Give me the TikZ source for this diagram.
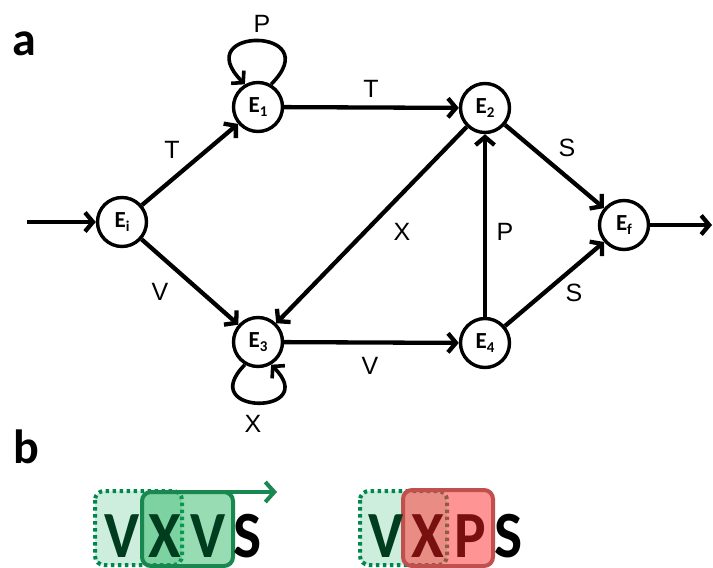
\documentclass[tikz,border=0pt]{standalone}
\usepackage{fontspec}
\setmainfont{Carlito}
\newfontfamily\labfont{Liberation Sans}
\usetikzlibrary{arrows.meta}
\definecolor{lgreen}{RGB}{205,238,220}
\definecolor{dotgreen}{RGB}{0,135,80}
\definecolor{solidgreen}{RGB}{21,175,85}
\definecolor{bordergreen}{RGB}{25,135,80}
\definecolor{lettergreen}{RGB}{0,60,30}
\definecolor{redfill}{RGB}{255,60,60}
\definecolor{redborder}{RGB}{192,80,77}
\definecolor{letterred}{RGB}{120,16,16}
\newcommand\Es[1]{\fontsize{23}{23}\selectfont\bfseries E\raisebox{-4pt}{\fontsize{15}{15}\selectfont #1}}
\newcommand\BL[1]{\scalebox{0.9}[1]{#1}}
\begin{document}
\begin{tikzpicture}[x=1pt,y=-1pt,
  state/.style={circle,draw,line width=3.4pt,minimum size=49pt,inner sep=0pt,fill=white},
  edge/.style={line width=4.3pt,-{Straight Barb[length=8pt,width=19pt]}},
  loopedge/.style={line width=3.6pt,-{Straight Barb[length=8pt,width=18pt]}},
  elab/.style={font=\labfont\fontsize{25}{25}\selectfont,inner sep=0pt},
  panel/.style={font=\bfseries\fontsize{48}{48}\selectfont,inner sep=0pt,anchor=base west},
  bigl/.style={font=\bfseries\fontsize{66}{66}\selectfont,inner sep=0pt,anchor=base},
  dotbox/.style={dotgreen,line width=4pt,dash pattern=on 3.5pt off 3.5pt,rounded corners=9pt},
  gbox/.style={fill=solidgreen,fill opacity=0.44,draw=bordergreen,line width=4pt,rounded corners=9pt},
  rbox/.style={fill=redfill,fill opacity=0.55,draw=redborder,line width=4pt,rounded corners=9pt}]
\useasboundingbox (0,0) rectangle (713,568);

% panel labels
\node[panel] (pa) at (12,55) {a};
\node[panel] (pb) at (13,463) {b};

% states
\node[state] (Ei) at (122,222) {\Es{i}};
\node[state] (E1) at (258,107) {\Es{1}};
\node[state] (E2) at (485,108) {\Es{2}};
\node[state] (Ef) at (624,225) {\Es{f}};
\node[state] (E3) at (258,342) {\Es{3}};
\node[state] (E4) at (485,343) {\Es{4}};
\coordinate (in) at (27,222);
\coordinate (out) at (712,225);

% edges
\draw[edge] (in) -- (Ei);
\draw[edge] (Ei) -- (E1);
\draw[edge] (Ei) -- (E3);
\draw[edge] (E1) -- (E2);
\draw[edge] (E2) -- (E3);
\draw[edge] (E3) -- (E4);
\draw[edge] (E4) -- (E2);
\draw[edge] (E2) -- (Ef);
\draw[edge] (E4) -- (Ef);
\draw[edge] (Ef) -- (out);
\draw[loopedge] (E1.60) .. controls +(45:82pt) and +(135:82pt) .. (E1.120);
\draw[loopedge] (E3.240) .. controls +(-135:72pt) and +(-45:72pt) .. (E3.300);

% edge labels
\node[elab] (lP1) at (262,24) {P};
\node[elab] (lT1) at (172,150) {T};
\node[elab] (lT2) at (371,89) {T};
\node[elab] (lS1) at (567,148) {S};
\node[elab] (lX1) at (402,232) {X};
\node[elab] (lP2) at (505,232) {P};
\node[elab] (lV1) at (160,292) {V};
\node[elab] (lV2) at (370,366) {V};
\node[elab] (lS2) at (574,293) {S};
\node[elab] (lX2) at (253,424) {X};

% panel b, left
\fill[lgreen,rounded corners=9pt] (95,491) rectangle (182,565);
\draw[dotbox] (95,491) rectangle (182,565);
\draw[gbox] (142,492) rectangle (233,566);
\coordinate (arS) at (152,492);
\coordinate (arE) at (277,492);
\draw[bordergreen,line width=4pt,-{Straight Barb[length=9pt,width=20pt]}] (arS) -- (arE);
\node[bigl,text=lettergreen] (b1) at (122,557) {\BL{V}};
\node[bigl,text=lettergreen] (b2) at (165,557) {\BL{X}};
\node[bigl,text=lettergreen] (b3) at (208,557) {\BL{V}};
\node[bigl,text=black] (b4) at (248,557) {\BL{S}};

% panel b, right
\fill[lgreen,rounded corners=9pt] (360,491) rectangle (447,565);
\draw[dotbox] (360,491) rectangle (447,565);
\draw[rbox] (403,490) rectangle (493,566);
\node[bigl,text=lettergreen] (c1) at (386,557) {\BL{V}};
\node[bigl,text=letterred] (c2) at (428,557) {\BL{X}};
\node[bigl,text=letterred] (c3) at (470,557) {\BL{P}};
\node[bigl,text=black] (c4) at (509,557) {\BL{S}};
\end{tikzpicture}
\end{document}
